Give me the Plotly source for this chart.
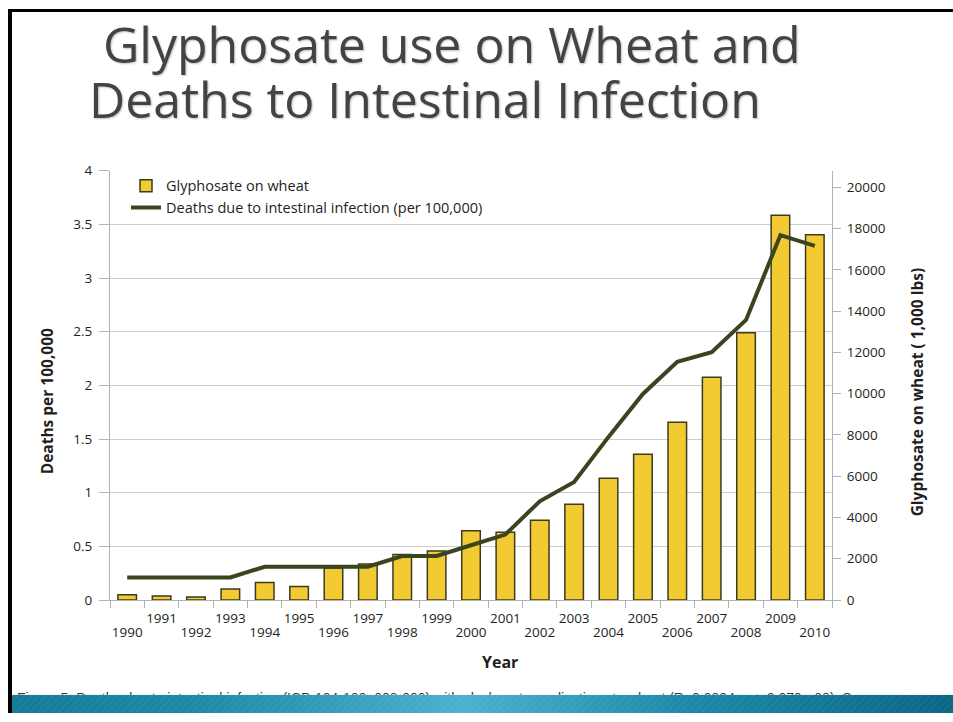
import plotly.graph_objects as go

# ---------------- data ----------------
years = list(range(1990, 2011))
glyphosate_wheat = [260, 200, 150, 530, 850, 650, 1550, 1750, 2200, 2380, 3350,
                    3280, 3860, 4640, 5900, 7060, 8610, 10790, 12950, 18640, 17700]
deaths_per_100k = [0.21, 0.21, 0.21, 0.21, 0.31, 0.31, 0.31, 0.31, 0.41, 0.41, 0.51,
                   0.61, 0.92, 1.10, 1.52, 1.92, 2.22, 2.31, 2.61, 3.40, 3.30]
odd_years = [y for y in years if y % 2 == 1]
even_years = [y for y in years if y % 2 == 0]
right_ticks = list(range(0, 20001, 2000))

title_line1 = "Glyphosate use on Wheat and"
title_line2 = "Deaths to Intestinal Infection"
left_title = "Deaths per 100,000"
right_title = "Glyphosate on wheat ( 1,000 lbs)"
x_title = "Year"
bar_name = "Glyphosate on wheat"
line_name = "Deaths due to intestinal infection (per 100,000)"
caption = ("Figure 5. Deaths due to intestinal infection (ICD 104-109, 008-009) with glyphosate "
           "applications to wheat (R=0.9834, p<=2.079e-08). S")

W, H = 953, 722
# vertical placement helper (page pixels from the top -> paper fraction)
VS, VOFF = 0.9767, 8.0
def px(x):
    return x / W
def py(y):
    yin = (y - VOFF) / VS
    return (H - yin) / H

GRAY = "#b3b3b3"
TXT = "#231f20"

fig = go.Figure()

fig.add_trace(go.Bar(
    x=years, y=glyphosate_wheat, name=bar_name, width=0.54,
    marker=dict(color="#f2ca32", line=dict(color="#3d3b1f", width=1.5)),
    xaxis="x", yaxis="y"))

fig.add_trace(go.Scatter(
    x=years, y=deaths_per_100k, name=line_name, mode="lines",
    line=dict(color="#3a4520", width=4),
    xaxis="x", yaxis="y2"))

# carrier (draws nothing) so the second year-label row axis is created
fig.add_trace(go.Scatter(
    x=even_years, y=[0] * len(even_years), mode="none",
    xaxis="x2", yaxis="y", showlegend=False, hoverinfo="skip"))

# partially hidden caption (clipped by its own little axis area)
fig.add_trace(go.Scatter(
    x=[17], y=[700], mode="text", text=[caption], textposition="middle right",
    textfont=dict(family="Liberation Sans", size=14, color="#333333"),
    xaxis="x3", yaxis="y3", showlegend=False, hoverinfo="skip", cliponaxis=True))

# bottom teal band
band_x = [0, 1, 1, 0, 0]
band_y = [0, 0, 1, 1, 0]
fig.add_trace(go.Scatter(
    x=band_x, y=band_y, mode="lines", fill="toself", line=dict(width=0),
    fillgradient=dict(type="horizontal",
                      colorscale=[[0, "#137a97"], [0.2, "#1d89a8"], [0.48, "#4cb0cf"],
                                  [0.72, "#1b88a9"], [1, "#0a6585"]]),
    xaxis="x4", yaxis="y4", showlegend=False, hoverinfo="skip"))
fig.add_trace(go.Scatter(
    x=band_x, y=band_y, mode="lines", fill="toself", line=dict(width=0),
    fillcolor="rgba(0,0,0,0)",
    fillpattern=dict(shape="/", fgcolor="rgba(255,255,255,0.10)", size=5, solidity=0.3),
    xaxis="x4", yaxis="y4", showlegend=False, hoverinfo="skip"))

xd = [px(110), px(832)]
yd = [py(600), py(170)]
xrange = [years[0] - 0.5, years[-1] + 0.5]

fig.update_layout(
    width=W, height=H, autosize=False,
    margin=dict(l=0, r=0, t=0, b=0, pad=0),
    paper_bgcolor="white", plot_bgcolor="rgba(0,0,0,0)",
    font=dict(family="Open Sans", color=TXT, size=13.5),
    showlegend=True,
    legend=dict(x=px(126), y=py(169), xanchor="left", yanchor="top",
                bgcolor="rgba(0,0,0,0)", font=dict(size=14.5, color=TXT),
                tracegroupgap=0),
    xaxis=dict(domain=xd, range=xrange, anchor="y",
               tickmode="array", tickvals=odd_years, ticktext=[str(y) for y in odd_years],
               ticks="", showline=True, linecolor=GRAY, linewidth=1.2,
               showgrid=False, zeroline=False, ticklabelstandoff=6,
               minor=dict(tickmode="array", tickvals=[y - 0.5 for y in years] + [years[-1] + 0.5],
                          ticks="outside", ticklen=7, tickcolor=GRAY, tickwidth=1.2, showgrid=False),
               tickfont=dict(size=13.5, color=TXT)),
    xaxis2=dict(overlaying="x", anchor="y", side="bottom", range=xrange,
                tickmode="array", tickvals=even_years, ticktext=[str(y) for y in even_years],
                ticks="", showline=False, showgrid=False, zeroline=False,
                ticklabelstandoff=22, tickfont=dict(size=13.5, color=TXT)),
    yaxis=dict(domain=yd, range=[0, 20800], anchor="x", side="right",
               tickmode="array", tickvals=right_ticks, ticktext=[str(v) for v in right_ticks],
               showline=True, linecolor=GRAY, linewidth=1.2,
               ticks="outside", ticklen=8, tickcolor=GRAY, tickwidth=1.2,
               showgrid=False, zeroline=False, ticklabelstandoff=3,
               tickfont=dict(size=13.5, color=TXT)),
    yaxis2=dict(overlaying="y", anchor="x", side="left", range=[0, 4], dtick=0.5,
                showline=True, linecolor=GRAY, linewidth=1.2,
                ticks="outside", ticklen=10, tickcolor=GRAY, tickwidth=1.2,
                showgrid=True, gridcolor="#cdcdcd", gridwidth=1.2, zeroline=False,
                ticklabelstandoff=4, tickfont=dict(size=13.5, color=TXT)),
    xaxis3=dict(domain=[0, 1], range=[0, W], visible=False, anchor="y3", fixedrange=True),
    yaxis3=dict(domain=[py(695), py(680)], range=[695, 680], visible=False, anchor="x3",
                fixedrange=True),
    xaxis4=dict(domain=[px(12), 1], range=[0, 1], visible=False, anchor="y4", fixedrange=True),
    yaxis4=dict(domain=[0, py(695)], range=[0, 1], visible=False, anchor="x4", fixedrange=True),
)

title_font = dict(family="Open Sans", size=50, color="#434343",
                  shadow="1px 1px 2px rgba(0,0,0,0.25)")
ann = [
    dict(text=title_line1, x=px(101), y=py(43.5), xanchor="left", yanchor="middle",
         font=title_font),
    dict(text=title_line2, x=px(87), y=py(98.5), xanchor="left", yanchor="middle",
         font=title_font),
    dict(text="<b>%s</b>" % left_title, x=px(47), y=py(401), textangle=-90,
         xanchor="center", yanchor="middle", font=dict(size=15.5, color=TXT)),
    dict(text="<b>%s</b>" % right_title, x=px(917), y=py(392), textangle=-90,
         xanchor="center", yanchor="middle", font=dict(size=15.5, color=TXT)),
    dict(text="<b>%s</b>" % x_title, x=px(500), y=py(662),
         xanchor="center", yanchor="middle", font=dict(size=16, color=TXT)),
]
for a in ann:
    a.update(xref="paper", yref="paper", showarrow=False)
fig.update_layout(annotations=ann)

top_line_y = (H - 1.5) / H
fig.update_layout(shapes=[
    dict(type="line", xref="paper", yref="paper", x0=px(8), x1=1, y0=top_line_y, y1=top_line_y,
         line=dict(color="black", width=3), layer="above"),
    dict(type="line", xref="paper", yref="paper", x0=px(10), x1=px(10), y0=0, y1=top_line_y,
         line=dict(color="black", width=4), layer="above"),
])

fig.write_html(
    "out.html",
    config={"displayModeBar": False},
    post_script=(
        "var gd=document.getElementById('{plot_id}');"
        "gd.style.position='fixed';gd.style.top='0px';gd.style.left='0px';"
        "document.body.style.margin='0';document.body.style.padding='0';"
        "document.body.style.overflow='hidden';"
        "document.documentElement.style.overflow='hidden';"
    ),
)
